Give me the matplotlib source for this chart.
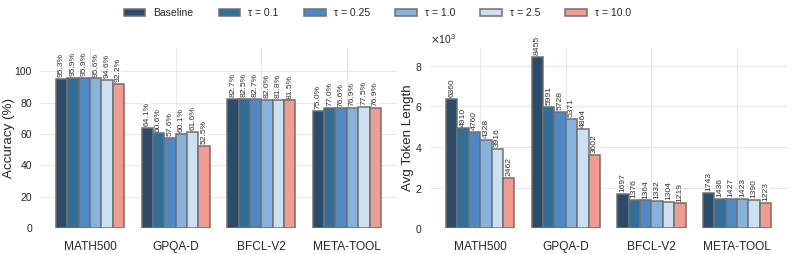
import numpy as np
import matplotlib
matplotlib.use("Agg")
import matplotlib.pyplot as plt
import seaborn as sns

sns.set_style("whitegrid")
plt.rcParams['font.family'] = ['Liberation Sans', 'DejaVu Sans']

# data
benchmarks = ["MATH500", "GPQA-D", "BFCL-V2", "META-TOOL"]
methods = ["Baseline", "τ = 0.1", "τ = 0.25", "τ = 1.0", "τ = 2.5", "τ = 10.0"]
colors = ["#2a4b6a", "#336e97", "#4f89c5", "#86b2db", "#cde0f1", "#f19c90"]

accuracy = {
    "Baseline": [95.3, 64.1, 82.7, 75.0],
    "τ = 0.1": [95.9, 60.6, 82.5, 77.0],
    "τ = 0.25": [95.9, 57.6, 82.7, 76.6],
    "τ = 1.0": [95.6, 60.1, 82.0, 76.9],
    "τ = 2.5": [94.6, 61.6, 81.8, 77.5],
    "τ = 10.0": [92.2, 52.5, 81.5, 76.9],
}
tokens = {
    "Baseline": [6360, 8455, 1697, 1743],
    "τ = 0.1": [4910, 5991, 1376, 1436],
    "τ = 0.25": [4760, 5728, 1364, 1427],
    "τ = 1.0": [4328, 5371, 1332, 1423],
    "τ = 2.5": [3916, 4864, 1304, 1390],
    "τ = 10.0": [2462, 3602, 1219, 1223],
}

fig = plt.figure(figsize=(7.93, 2.54), dpi=100)
ax1 = fig.add_axes([0.050, 0.102, 0.451, 0.709])
ax2 = fig.add_axes([0.542, 0.102, 0.451, 0.709])

x = np.arange(len(benchmarks))
w = 0.133


def draw(ax, data, fmt, offset):
    handles = []
    for i, m in enumerate(methods):
        pos = x + (i - 2.5) * w
        bars = ax.bar(pos, data[m], w, color=colors[i], edgecolor="#707070",
                      linewidth=1.1, label=m, zorder=2)
        handles.append(bars)
        for p, v in zip(pos, data[m]):
            ax.text(p, v + offset, fmt(v), rotation=90, ha="center", va="bottom",
                    fontsize=6.1, color="#333333", zorder=3,
                    bbox=dict(facecolor="white", edgecolor="none", pad=0.3))
    ax.set_xticks(x)
    ax.set_xticklabels(benchmarks, fontsize=8.6)
    ax.tick_params(axis="y", labelsize=7.5, pad=2)
    ax.tick_params(axis="x", pad=6)
    for s in ax.spines.values():
        s.set_visible(False)
    ax.grid(True, color="#e8e8e8", linewidth=0.8, zorder=0)
    return handles


handles = draw(ax1, accuracy, lambda v: f"{v:.1f}%", 1.0)
ax1.set_ylim(0, 115)
ax1.set_ylabel("Accuracy (%)", fontsize=9.6)
ax1.yaxis.set_label_coords(-0.068, 0.5)

draw(ax2, tokens, lambda v: f"{v}", 90)
ax2.set_ylim(0, 8878)
ax2.set_yticks([0, 2000, 4000, 6000, 8000])
ax2.ticklabel_format(axis="y", style="sci", scilimits=(3, 3), useMathText=True)
ax2.yaxis.get_offset_text().set_fontsize(7.5)
ax2.set_ylabel("Avg Token Length", fontsize=9.6)
ax2.yaxis.set_label_coords(-0.045, 0.5)

fig.legend(handles, methods, loc="center", bbox_to_anchor=(0.476, 0.949), ncol=6,
           frameon=False, fontsize=7.5, handlelength=2.1, columnspacing=2.4,
           handletextpad=0.77)

plt.savefig("out.png", dpi=100)
